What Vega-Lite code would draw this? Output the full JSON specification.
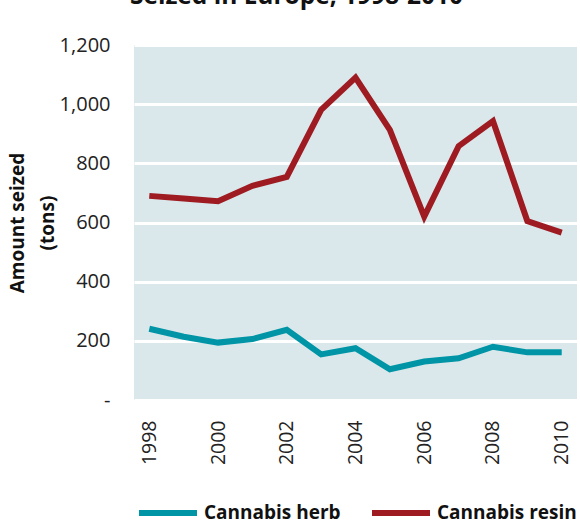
{
  "$schema": "https://vega.github.io/schema/vega-lite/v6.json",
  "autosize": "none",
  "width": 443,
  "height": 355,
  "padding": {"left": 134, "top": 45, "right": 3, "bottom": 121},
  "background": "white",
  "title": {
    "text": "Seized in Europe, 1998-2010",
    "font": "Open Sans",
    "fontSize": 24.5,
    "fontWeight": "bold",
    "color": "#111111",
    "anchor": "middle",
    "baseline": "alphabetic",
    "offset": 7,
    "dx": -59
  },
  "config": {
    "view": {"fill": "#DAE8EB", "stroke": null},
    "font": "Open Sans"
  },
  "data": {
    "values": [
      {"year": 1998, "type": "Cannabis herb", "tons": 241},
      {"year": 1999, "type": "Cannabis herb", "tons": 214},
      {"year": 2000, "type": "Cannabis herb", "tons": 194},
      {"year": 2001, "type": "Cannabis herb", "tons": 206},
      {"year": 2002, "type": "Cannabis herb", "tons": 237},
      {"year": 2003, "type": "Cannabis herb", "tons": 154},
      {"year": 2004, "type": "Cannabis herb", "tons": 175},
      {"year": 2005, "type": "Cannabis herb", "tons": 104},
      {"year": 2006, "type": "Cannabis herb", "tons": 130},
      {"year": 2007, "type": "Cannabis herb", "tons": 141},
      {"year": 2008, "type": "Cannabis herb", "tons": 180},
      {"year": 2009, "type": "Cannabis herb", "tons": 161},
      {"year": 2010, "type": "Cannabis herb", "tons": 161},
      {"year": 1998, "type": "Cannabis resin", "tons": 690},
      {"year": 1999, "type": "Cannabis resin", "tons": 681},
      {"year": 2000, "type": "Cannabis resin", "tons": 672},
      {"year": 2001, "type": "Cannabis resin", "tons": 724},
      {"year": 2002, "type": "Cannabis resin", "tons": 754},
      {"year": 2003, "type": "Cannabis resin", "tons": 981},
      {"year": 2004, "type": "Cannabis resin", "tons": 1090},
      {"year": 2005, "type": "Cannabis resin", "tons": 913},
      {"year": 2006, "type": "Cannabis resin", "tons": 620},
      {"year": 2007, "type": "Cannabis resin", "tons": 858},
      {"year": 2008, "type": "Cannabis resin", "tons": 943},
      {"year": 2009, "type": "Cannabis resin", "tons": 605},
      {"year": 2010, "type": "Cannabis resin", "tons": 566}
    ]
  },
  "mark": {"type": "line", "strokeWidth": 6, "strokeCap": "butt", "strokeJoin": "miter"},
  "encoding": {
    "x": {
      "field": "year",
      "type": "ordinal",
      "scale": {"type": "point", "padding": 0.445},
      "axis": {
        "title": null,
        "values": [1998, 2000, 2002, 2004, 2006, 2008, 2010],
        "labelAngle": 270,
        "labelFontSize": 19.5,
        "labelColor": "#222222",
        "labelPadding": 20,
        "ticks": false,
        "domain": false,
        "grid": false
      }
    },
    "y": {
      "field": "tons",
      "type": "quantitative",
      "scale": {"domain": [0, 1200], "nice": false},
      "axis": {
        "title": ["Amount seized", "(tons)"],
        "titleFontSize": 19,
        "titleFontWeight": "bold",
        "titleColor": "#111111",
        "titlePadding": 2,
        "titleLineHeight": 30,
        "values": [0, 200, 400, 600, 800, 1000, 1200],
        "labelExpr": "datum.value == 0 ? '-' : format(datum.value, ',')",
        "labelFontSize": 20,
        "labelColor": "#222222",
        "labelPadding": 24,
        "ticks": false,
        "domain": false,
        "grid": true,
        "gridColor": "white",
        "gridWidth": 3
      }
    },
    "color": {
      "field": "type",
      "type": "nominal",
      "scale": {"domain": ["Cannabis herb", "Cannabis resin"], "range": ["#0095A6", "#9E1B22"]},
      "legend": {
        "title": null,
        "orient": "none",
        "direction": "horizontal",
        "legendX": 2,
        "legendY": 436,
        "symbolType": "stroke",
        "symbolSize": 3364,
        "symbolStrokeWidth": 6,
        "labelFontSize": 19,
        "labelFontWeight": "bold",
        "labelColor": "#111111",
        "labelOffset": 4,
        "columnPadding": 19
      }
    }
  }
}
